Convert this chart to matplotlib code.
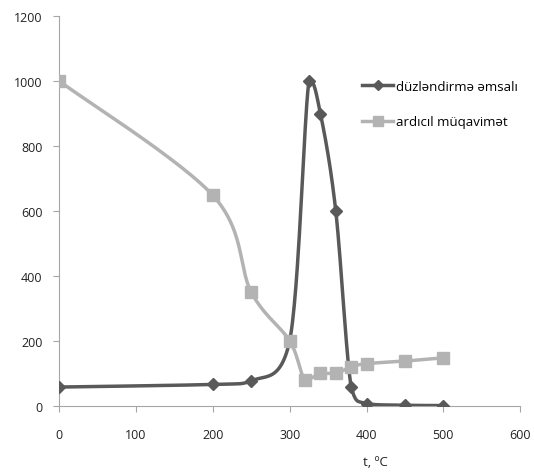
import numpy as np
import matplotlib
matplotlib.use("Agg")
import matplotlib.pyplot as plt
from matplotlib.lines import Line2D

# data
t_dark = [0, 200, 250, 300, 325, 340, 360, 380, 400, 450, 500]
dark_vals = [58, 66, 76, 200, 1000, 900, 600, 58, 7, 2, 1]
t_gray = [0, 200, 250, 300, 320, 340, 360, 380, 400, 450, 500]
gray_vals = [1000, 648, 350, 200, 80, 100, 100, 120, 130, 138, 148]
labels = ["düzləndirmə əmsalı", "ardıcıl müqavimət"]


def smooth(x, y, n=30):
    # excel-like smoothed line (catmull-rom bezier), control y kept inside the segment
    P = np.column_stack([np.asarray(x, float), np.asarray(y, float)])
    out = []
    for i in range(len(P) - 1):
        p0 = P[i - 1] if i > 0 else P[i]
        p1, p2 = P[i], P[i + 1]
        p3 = P[i + 2] if i + 2 < len(P) else P[i + 1]
        c1 = p1 + (p2 - p0) / 6
        c2 = p2 - (p3 - p1) / 6
        lo, hi = min(p1[1], p2[1]), max(p1[1], p2[1])
        pad = 0.08 * (hi - lo)
        c1[1] = np.clip(c1[1], lo - pad, hi + pad)
        c2[1] = np.clip(c2[1], lo - pad, hi + pad)
        s = np.linspace(0, 1, n)[:, None]
        seg = (1 - s) ** 3 * p1 + 3 * (1 - s) ** 2 * s * c1 + 3 * (1 - s) * s ** 2 * c2 + s ** 3 * p2
        out.append(seg)
    seg = np.vstack(out)
    return seg[:, 0], seg[:, 1]


plt.rcParams['font.family'] = ['Open Sans', 'DejaVu Sans']
fig = plt.figure(figsize=(5.34, 4.77), dpi=100)
ax = fig.add_axes([0.111, 0.147, 0.863, 0.817])

dark = '#595959'
gray = '#b3b3b3'

xs, ys = smooth(t_gray, gray_vals)
ax.plot(xs, ys, color=gray, lw=2.5, zorder=2)
xs, ys = smooth(t_dark, dark_vals)
ax.plot(xs, ys, color=dark, lw=2.5, zorder=3)
ax.plot(t_dark, dark_vals, ls='none', marker='D', ms=6, color=dark, zorder=4)
ax.plot(t_gray, gray_vals, ls='none', marker='s', ms=9, color=gray, zorder=5)

ax.set_xlim(0, 600)
ax.set_ylim(0, 1200)
ax.set_xticks(range(0, 601, 100))
ax.set_yticks(range(0, 1201, 200))
for s in ['top', 'right']:
    ax.spines[s].set_visible(False)
for s in ['left', 'bottom']:
    ax.spines[s].set_color('#a6a6a6')
    ax.spines[s].set_linewidth(0.8)
ax.tick_params(axis='both', colors='#a6a6a6', length=4, width=0.8, labelsize=9, labelcolor='#222222')
ax.tick_params(axis='x', pad=12)
ax.tick_params(axis='y', pad=8)

ax.text(412, -172, 't, ºC', fontsize=9.5, color='#222222', ha='center', va='center')

handles = [Line2D([], [], color=dark, lw=2.5, marker='D', ms=5),
           Line2D([], [], color=gray, lw=2.5, marker='s', ms=7)]
ax.legend(handles, labels, loc='upper left', bbox_to_anchor=(0.645, 0.85), frameon=False,
          fontsize=9.5, handlelength=2.4, handletextpad=0.2, labelspacing=1.7,
          borderaxespad=0)

fig.savefig('out.png', dpi=100)
